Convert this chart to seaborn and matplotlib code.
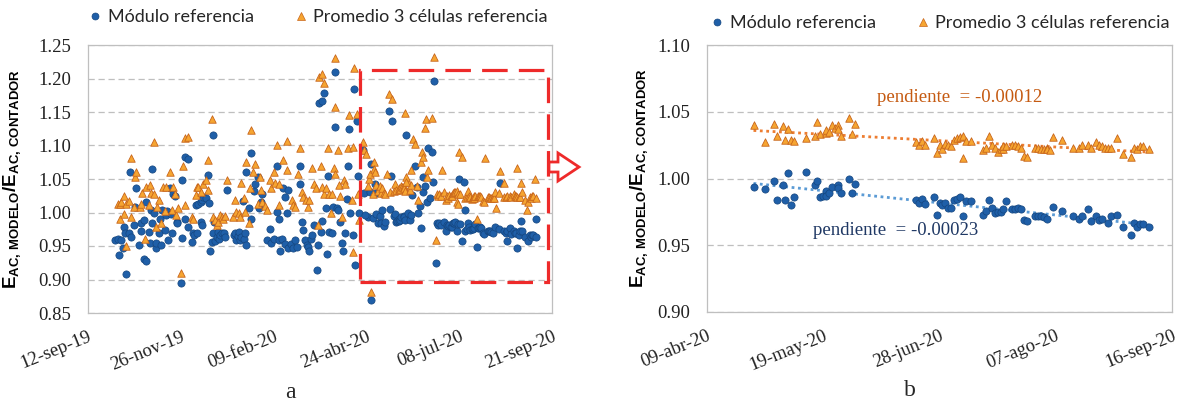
"""
Cociente E_AC modelo / E_AC contador para el módulo y las células de referencia.

a) serie completa sep-19 .. sep-20, con el recuadro de la zona ampliada
b) detalle abr-20 .. sep-20 con la recta de tendencia de cada serie
"""

from datetime import date, timedelta

import numpy as np
import matplotlib
matplotlib.use("Agg")  # sin pantalla
import matplotlib.pyplot as plt
from matplotlib.lines import Line2D
from matplotlib.patches import Rectangle, Polygon
import seaborn as sns

FECHA_0 = date(2019, 9, 12)   # día 0 del eje x
MESES = ["ene", "feb", "mar", "abr", "may", "jun",
         "jul", "ago", "sep", "oct", "nov", "dic"]

LEYENDA = ["Módulo referencia", "Promedio 3 células referencia"]
PENDIENTE_CEL = "pendiente  = -0.00012"
PENDIENTE_MOD = "pendiente  = -0.00023"

# ── panel b (días desde FECHA_0) ─────────────────────────────────────────────
dias_mod_b = [226, 230, 233, 234, 236, 237, 238, 239, 240, 244, 247, 248, 249, 250,
              251, 251, 252, 253, 255, 255, 256, 259, 260, 261,
              282, 283, 284, 285, 288, 289, 290, 291, 292, 293, 294, 295, 296, 297,
              298, 299, 301, 305, 306, 307, 308, 309, 310, 311, 312, 313, 315, 316,
              317, 318, 319, 320, 323, 324, 325, 326, 327, 329, 332, 336, 338, 339,
              341, 342, 344, 345, 346, 348, 349, 351, 353, 356, 357, 358, 359, 360, 362]
mod_b = [0.994, 0.992, 0.998, 0.984, 0.995, 0.984, 1.004, 0.980, 0.986, 1.005, 0.995,
         0.998, 0.986, 0.987, 0.991, 0.987, 0.989, 0.994, 0.995, 0.993, 0.989, 1.000,
         0.989, 0.996,
         0.984, 0.982, 0.985, 0.981, 0.986, 0.973, 0.982, 0.980, 0.982, 0.978, 0.978,
         0.984, 0.985, 0.986, 0.972, 0.983, 0.983, 0.973, 0.976, 0.984, 0.978, 0.974,
         0.975, 0.975, 0.977, 0.983, 0.977, 0.977, 0.978, 0.977, 0.969, 0.968, 0.972,
         0.972, 0.972, 0.971, 0.970, 0.979, 0.976, 0.972, 0.970, 0.972, 0.977, 0.968,
         0.972, 0.969, 0.970, 0.967, 0.972, 0.973, 0.964, 0.958, 0.967, 0.964, 0.966,
         0.966, 0.964]

dias_cel_b = [226, 230, 233, 234, 236, 237, 238, 239, 240, 244, 247, 248, 249, 251,
              251, 252, 253, 254, 255, 255, 256, 259, 260, 261,
              282, 283, 284, 285, 288, 289, 290, 291, 292, 293, 294, 295, 296, 297,
              298, 298, 299, 301, 305, 306, 307, 308, 309, 310, 311, 312, 312, 313,
              315, 316, 317, 318, 319, 320, 323, 324, 325, 326, 327, 327, 328, 329,
              332, 336, 338, 339, 341, 342, 344, 345, 346, 347, 348, 349, 351, 353,
              356, 357, 358, 359, 360, 362]
cel_b = [1.040, 1.027, 1.041, 1.032, 1.039, 1.029, 1.037, 1.029, 1.028, 1.030, 1.032,
         1.042, 1.033, 1.034, 1.036, 1.035, 1.040, 1.038, 1.040, 1.037, 1.032, 1.045,
         1.033, 1.041,
         1.027, 1.025, 1.028, 1.025, 1.030, 1.019, 1.025, 1.022, 1.026, 1.025, 1.024,
         1.029, 1.030, 1.031, 1.032, 1.015, 1.028, 1.028, 1.021, 1.023, 1.032, 1.025,
         1.023, 1.020, 1.022, 1.022, 1.024, 1.024, 1.025, 1.025, 1.024, 1.023, 1.017,
         1.016, 1.023, 1.023, 1.022, 1.022, 1.023, 1.022, 1.021, 1.031, 1.029, 1.023,
         1.023, 1.025, 1.025, 1.023, 1.027, 1.025, 1.024, 1.023, 1.023, 1.023, 1.030,
         1.018, 1.016, 1.023, 1.022, 1.024, 1.024, 1.022]

# ── panel a: puntos que solo salen en la serie completa ──────────────────────
dias_mod_a = [22, 24, 25, 27, 28, 29, 30, 31, 33, 34, 35, 37, 38, 39, 41, 43, 43, 45, 45,
              47, 47, 49, 50, 51, 52, 52, 53, 55, 55, 57, 58, 59, 60, 62, 63, 64, 65, 66,
              67, 68, 69, 70, 72, 72, 75, 76, 76, 78, 78, 81, 81, 84, 85, 86, 87, 88, 89,
              91, 91, 92, 92, 93, 95, 97, 98, 99, 100, 101, 101, 102, 103, 104, 105, 106,
              107, 108, 110, 111, 112, 118, 119, 120, 121, 122, 123, 124, 125, 126, 127,
              128, 128, 130, 132, 132, 134, 135, 137, 138, 140, 141, 145, 147, 148, 150,
              153, 153, 154, 154, 155, 157, 158, 159, 159, 161, 162, 162, 164, 166, 167,
              169, 171, 171, 173, 174, 175, 177, 178, 179, 180, 181, 183, 185, 186, 187,
              188, 189, 189, 191, 192, 193, 194, 195, 197, 198, 200, 200, 201, 202, 204,
              205, 206, 208, 209, 210, 211, 212, 214, 215, 216, 217, 218, 219, 222, 223,
              224, 228, 229, 229, 232, 233, 243, 245, 246, 257, 262, 264, 266, 267, 268,
              269, 271, 271, 272, 274, 275, 276, 278, 279, 280, 281, 300, 302, 304, 305,
              314, 333, 339, 347, 350, 362]
mod_a = [0.959, 0.961, 0.937, 0.959, 0.947, 0.979, 0.970, 0.908, 0.969, 1.060, 0.964,
         0.981, 1.008, 1.036, 0.951, 0.985, 0.973, 0.989, 0.930, 0.927, 1.015, 0.971,
         0.955, 1.003, 1.065, 0.984, 1.000, 0.947, 0.954, 0.970, 0.991, 0.951, 1.003,
         0.974, 0.996, 1.002, 0.959, 1.037, 0.998, 0.970, 1.028, 1.024, 0.986, 0.984,
         0.895, 0.962, 1.049, 1.083, 0.991, 1.080, 0.979, 0.956, 0.969, 0.966, 1.011,
         0.969, 1.013, 1.016, 0.986, 1.018, 0.982, 1.023, 1.021, 1.056, 1.014, 0.942,
         0.956, 1.115, 0.970, 0.986, 0.958, 0.964, 0.971, 0.961, 0.967, 0.969, 0.969,
         0.963, 1.033, 0.966, 0.970, 0.959, 0.965, 0.971, 0.959, 0.963, 1.017, 0.960,
         0.969, 0.951, 1.060, 1.006, 0.991, 1.089, 1.032, 1.043, 1.053, 1.006, 1.016,
         1.027, 0.959, 0.976, 0.954, 0.960, 1.070, 1.001, 0.991, 0.959, 0.943, 0.961,
         1.036, 1.023, 0.953, 0.999, 1.033, 0.947, 0.953, 0.947, 0.959, 0.948, 1.069,
         1.043, 0.986, 0.974, 0.959, 0.951, 0.949, 0.942, 0.961, 0.966, 0.981, 0.914,
         0.951, 1.164, 0.971, 1.166, 0.987, 1.178, 1.006, 0.938, 1.055, 0.971, 0.970,
         1.008, 1.209, 1.127, 1.006, 1.003, 0.986, 0.955, 0.942, 0.969, 1.020, 1.070,
         1.125, 0.999, 0.966, 1.184, 0.921, 1.137, 1.055, 0.999, 1.093, 1.029, 0.996,
         1.031, 0.869, 1.073, 1.042, 1.029, 1.152, 1.054, 1.137, 1.115, 1.026, 1.070,
         1.038, 0.999, 1.009, 0.977, 1.031, 1.053, 1.040, 1.016, 1.097, 1.021, 1.090,
         1.046, 1.197, 0.925, 1.050, 0.957, 1.046, 1.003, 0.949, 1.044, 0.958, 0.947,
         0.988, 0.991]

dias_cel_a = [24, 26, 26, 27, 29, 29, 31, 31, 33, 35, 35, 37, 38, 39, 42, 43, 44, 46, 47,
              49, 50, 51, 53, 53, 55, 56, 57, 59, 61, 62, 63, 66, 68, 69, 70, 71, 73, 75,
              77, 78, 78, 81, 84, 85, 87, 88, 89, 91, 93, 95, 97, 97, 100, 101, 103, 104,
              105, 107, 108, 109, 111, 112, 117, 119, 120, 122, 123, 124, 126, 127, 128,
              130, 131, 132, 133, 135, 137, 139, 140, 141, 143, 145, 147, 148, 150, 151,
              153, 154, 154, 158, 161, 161, 165, 166, 167, 170, 171, 173, 174, 176, 178,
              179, 181, 183, 184, 186, 187, 188, 189, 189, 191, 191, 192, 194, 195, 196,
              197, 199, 200, 200, 200, 202, 203, 204, 205, 207, 208, 210, 211, 213, 214,
              214, 215, 217, 218, 219, 222, 223, 225, 227, 228, 229, 231, 231, 232, 242,
              243, 246, 256, 257, 257, 261, 263, 264, 266, 267, 269, 270, 271, 272, 273,
              274, 275, 278, 280, 281, 286, 299, 300, 302, 314, 321, 330, 333, 336, 347,
              350, 355, 361]
cel_a = [1.012, 1.012, 0.990, 1.015, 1.025, 0.998, 1.013, 0.950, 1.017, 1.081, 0.994,
         1.008, 1.053, 1.060, 1.008, 1.013, 1.029, 0.960, 1.038, 1.011, 1.041, 1.029,
         1.028, 1.105, 0.978, 1.008, 1.018, 0.984, 1.038, 1.002, 1.038, 1.061, 1.003,
         1.038, 1.027, 0.996, 1.006, 0.910, 1.069, 1.111, 1.011, 1.112, 0.994, 0.991,
         1.026, 1.038, 1.038, 1.031, 1.043, 1.048, 1.078, 1.033, 1.139, 0.994, 0.989,
         0.981, 0.986, 0.996, 0.994, 0.991, 0.995, 1.048, 0.994, 1.019, 1.001, 0.999,
         0.994, 1.044, 1.021, 1.001, 1.075, 0.985, 1.036, 1.123, 1.060, 1.072, 1.013,
         1.053, 1.033, 1.016, 1.010, 1.003, 1.048, 1.036, 1.061, 1.044, 1.100, 1.011,
         1.042, 1.079, 1.106, 1.063, 1.018, 1.011, 1.008, 1.058, 1.097, 1.031, 1.023,
         1.018, 1.008, 1.018, 1.066, 1.043, 1.036, 0.981, 1.202, 1.070, 1.038, 1.206,
         1.028, 1.194, 1.036, 1.097, 1.027, 0.999, 1.028, 1.067, 1.058, 1.231, 1.158,
         1.094, 1.041, 1.024, 0.994, 1.048, 1.043, 1.097, 1.145, 1.018, 1.098, 0.941,
         1.216, 1.147, 1.028, 0.989, 1.105, 1.093, 1.088, 1.050, 1.058, 0.881, 1.075,
         1.065, 1.060, 1.058, 1.177, 1.169, 1.148, 1.053, 1.046, 1.064, 1.110, 1.102,
         1.039, 1.018, 1.075, 1.090, 1.083, 1.126, 1.140, 1.053, 1.064, 1.141, 1.232,
         0.959, 1.063, 1.013, 1.090, 1.083, 0.991, 1.082, 1.006, 1.062, 1.044, 1.067,
         1.044, 1.004, 1.050]

# ejes
TICKS_X_A = [0, 75, 150, 225, 300, 375]
TICKS_X_B = [210, 250, 290, 330, 370]
TICKS_Y_A = [0.85, 0.90, 0.95, 1.00, 1.05, 1.10, 1.15, 1.20, 1.25]
TICKS_Y_B = [0.90, 0.95, 1.00, 1.05, 1.10]
ZONA_AMPLIADA = (220, 372, 0.897, 1.213)   # x0, x1, y0, y1 del recuadro rojo

AZUL, AZUL_BORDE = "#1F5FA8", "#15467F"
NARANJA, NARANJA_BORDE = "#F6A531", "#C8651B"
ROJO = "#EE2A2A"
GRIS = "#BFBFBF"
SERIF = ["Liberation Serif", "DejaVu Serif"]

W, H = 1178, 407


def fecha(dia):
    d = FECHA_0 + timedelta(days=int(dia))
    return f"{d.day:02d}-{MESES[d.month - 1]}-{d.year % 100:02d}"


def px(x, y):
    """pixel (desde arriba-izquierda) -> fracción de figura"""
    return x / W, 1 - y / H


def preparar_ejes(ax, xlim, xticks, yticks, label_x):
    ax.set_xlim(xlim)
    ax.set_ylim(yticks[0], yticks[-1])
    ax.set_xticks(xticks, labels=[fecha(t) for t in xticks], family=SERIF,
                  fontsize=13.5, rotation=22, ha="right", rotation_mode="anchor")
    ax.set_yticks(yticks, labels=[f"{v:.2f}" for v in yticks], family=SERIF,
                  fontsize=13.5)
    ax.tick_params(length=0, colors="#222222")
    ax.tick_params(axis="x", pad=11)
    ax.tick_params(axis="y", pad=12)
    ax.grid(axis="y", color=GRIS, lw=0.9, ls=(0, (5, 3)))
    ax.set_axisbelow(True)
    for s in ax.spines.values():
        s.set_color(GRIS)
        s.set_linewidth(0.9)
    ax.set_xlabel("")
    ax.set_ylabel(r"$\mathrm{E_{AC,\,MODELO}/E_{AC,\,CONTADOR}}$", fontsize=13.5, color="black")
    ax.yaxis.set_label_coords(label_x, 0.5)


def puntos(ax, dias_mod, mod, dias_cel, cel):
    sns.scatterplot(x=dias_mod, y=mod, ax=ax, marker="o", s=27, color=AZUL,
                    edgecolor=AZUL_BORDE, linewidth=0.5, zorder=3)
    sns.scatterplot(x=dias_cel, y=cel, ax=ax, marker="^", s=29, color=NARANJA,
                    edgecolor=NARANJA_BORDE, linewidth=0.6, zorder=4)


def leyenda(fig, cx, cy):
    handles = [
        Line2D([], [], ls="", marker="o", ms=5, color=AZUL, mec=AZUL_BORDE, mew=0.5),
        Line2D([], [], ls="", marker="^", ms=5.5, color=NARANJA, mec=NARANJA_BORDE, mew=0.5),
    ]
    fig.legend(handles, LEYENDA, loc="center", bbox_to_anchor=(cx, cy), ncol=2,
               frameon=False, prop={"family": "Lato", "size": 13},
               handletextpad=0.3, columnspacing=2.2, handlelength=0.8)


def main():
    sns.set_style("white")
    plt.rcParams["font.family"] = SERIF
    plt.rcParams["mathtext.fontset"] = "custom"
    plt.rcParams["mathtext.rm"] = "Liberation Sans:bold"
    plt.rcParams["mathtext.it"] = "Liberation Sans:bold"
    plt.rcParams["mathtext.bf"] = "Liberation Sans:bold"

    fig = plt.figure(figsize=(W / 100, H / 100), dpi=100)
    ax_a = fig.add_axes([88 / W, 1 - 313 / H, (552 - 88) / W, (313 - 45) / H])
    ax_b = fig.add_axes([707 / W, 1 - 312 / H, (1172 - 707) / W, (312 - 45) / H])

    # panel a: serie completa = puntos del detalle + resto
    puntos(ax_a, dias_mod_b + dias_mod_a, mod_b + mod_a,
           dias_cel_b + dias_cel_a, cel_b + cel_a)
    preparar_ejes(ax_a, (TICKS_X_A[0], TICKS_X_A[-1]), TICKS_X_A, TICKS_Y_A, -0.14)

    x0, x1, y0, y1 = ZONA_AMPLIADA
    ax_a.add_patch(Rectangle((x0, y0), x1 - x0, y1 - y0, fill=False, ec=ROJO,
                             lw=2.3, ls=(0, (8, 3.5)), clip_on=False, zorder=6))
    flecha = [px(549, 162), px(558, 162), px(558, 153), px(579, 167),
              px(558, 181), px(558, 172), px(549, 172)]
    fig.add_artist(Polygon(flecha, closed=True, transform=fig.transFigure,
                           fc="white", ec=ROJO, lw=2, zorder=7))

    # panel b: detalle + tendencias
    puntos(ax_b, dias_mod_b, mod_b, dias_cel_b, cel_b)
    sns.regplot(x=np.array(dias_cel_b), y=np.array(cel_b), ax=ax_b, scatter=False,
                ci=None, color="#ED7D31", line_kws={"lw": 2, "ls": (0, (1, 1.3)), "zorder": 2})
    sns.regplot(x=np.array(dias_mod_b), y=np.array(mod_b), ax=ax_b, scatter=False,
                ci=None, color="#5B9BD5", line_kws={"lw": 2, "ls": (0, (1, 1.3)), "zorder": 2})
    preparar_ejes(ax_b, (TICKS_X_B[0], TICKS_X_B[-1]), TICKS_X_B, TICKS_Y_B, -0.122)

    ax_b.text(297, 1.061, PENDIENTE_CEL, color="#C55A11", fontsize=13.5,
              ha="center", va="center")
    ax_b.text(275, 0.9607, PENDIENTE_MOD, color="#1F3864", fontsize=13.5,
              ha="center", va="center")

    leyenda(fig, 318 / W, 1 - 17 / H)
    leyenda(fig, 940 / W, 1 - 23 / H)

    fig.text(*px(290, 392), "a", fontsize=17, ha="center", va="center")
    fig.text(*px(910, 390), "b", fontsize=17, ha="center", va="center")

    fig.savefig("out.png", dpi=100)
    plt.close(fig)


if __name__ == "__main__":
    main()
